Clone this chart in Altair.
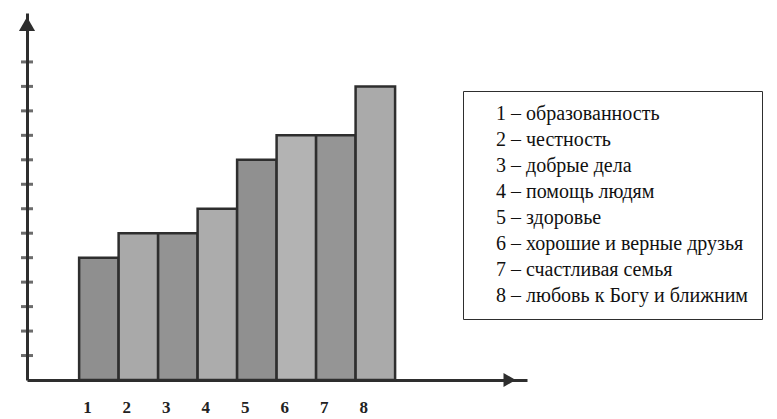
import altair as alt
import pandas as pd

numbers = [1, 2, 3, 4, 5, 6, 7, 8]
values = [5, 6, 6, 7, 9, 10, 10, 12]
names = [
    "образованность",
    "честность",
    "добрые дела",
    "помощь людям",
    "здоровье",
    "хорошие и верные друзья",
    "счастливая семья",
    "любовь к Богу и ближним",
]
y_ticks = list(range(1, 14))
bar_colors = ["#8f8f8f", "#a9a9a9", "#939393", "#acacac", "#909090", "#b3b3b3", "#959595", "#aaaaaa"]

labels = [f"{n} – {t}" for n, t in zip(numbers, names)]
df = pd.DataFrame({"n": numbers, "v": values, "label": labels})

X_DOMAIN = [-0.82, 11.84]
Y_DOMAIN = [0, 15]
xs = alt.Scale(domain=X_DOMAIN, nice=False, zero=False)
ys = alt.Scale(domain=Y_DOMAIN, nice=False)
dark = "#2e2e2e"
serif = "Liberation Serif"

bars = alt.Chart(df).transform_calculate(
    x0="datum.n - 0.5", x1="datum.n + 0.5"
).mark_bar(stroke=dark, strokeWidth=2.5).encode(
    x=alt.X("x0:Q", scale=xs, axis=alt.Axis(
        title=None, values=numbers, format="d", grid=False, ticks=False,
        domainWidth=3, domainColor=dark, labelFont=serif, labelFontSize=17,
        labelFontWeight="bold", labelColor="#222", labelPadding=19, labelOffset=-12)),
    x2="x1:Q",
    y=alt.Y("v:Q", scale=ys, axis=alt.Axis(
        title=None, labels=False, ticks=False, grid=False,
        domainWidth=3, domainColor=dark)),
    y2=alt.datum(0),
    color=alt.Color("label:N", scale=alt.Scale(domain=labels, range=bar_colors),
                    sort=labels,
                    legend=alt.Legend(title=None, orient="none", legendX=436, legendY=78,
                                      columns=1, padding=13, strokeColor=dark, fillColor="white",
                                      labelFont=serif, labelFontSize=20, labelColor="#111",
                                      labelLimit=400, rowPadding=6, symbolOpacity=0,
                                      symbolSize=0, symbolStrokeWidth=0, labelOffset=0)),
)

tick_df = pd.DataFrame({"t": y_ticks})
ticks = alt.Chart(tick_df).mark_tick(orient="horizontal", size=12, thickness=3, color=dark).encode(
    y=alt.Y("t:Q", scale=ys),
    x=alt.value(0),
)

arrow_up = alt.Chart(pd.DataFrame({"a": [14.55]})).mark_point(
    shape="triangle-up", filled=True, size=260, color=dark, opacity=1).encode(
    y=alt.Y("a:Q", scale=ys), x=alt.value(0))

arrow_right = alt.Chart(pd.DataFrame({"a": [11.4]})).mark_point(
    shape="triangle-right", filled=True, size=200, color=dark, opacity=1).encode(
    x=alt.X("a:Q", scale=xs), y=alt.value(367))

chart = alt.layer(bars, ticks, arrow_up, arrow_right).properties(
    width=500, height=367,
    background="white",
    autosize=alt.AutoSizeParams(type="none"),
    padding={"left": 19, "top": 5, "right": 242, "bottom": 39},
).configure_view(strokeWidth=0, stroke="transparent")

chart.save("out.html", embed_options={"renderer": "svg", "actions": False})
